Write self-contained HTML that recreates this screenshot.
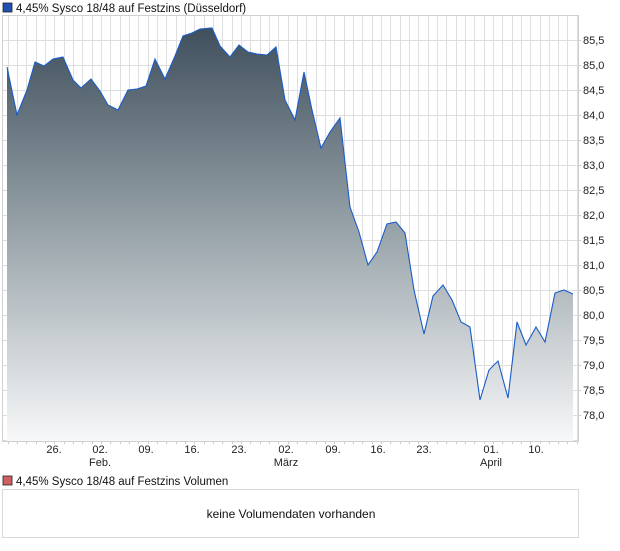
<!DOCTYPE html>
<html><head><meta charset="utf-8"><style>
body{margin:0;background:#fff;width:620px;height:546px;overflow:hidden;font-family:"Liberation Sans",sans-serif}
</style></head><body>
<svg width="620" height="546" xmlns="http://www.w3.org/2000/svg" font-family="Liberation Sans, sans-serif">
<defs>
<linearGradient id="g" gradientUnits="userSpaceOnUse" x1="0" y1="28" x2="0" y2="441">
<stop offset="0" stop-color="#3f4f5c"/>
<stop offset="0.5" stop-color="#9aa5ab"/>
<stop offset="1" stop-color="#f7f8f9"/>
</linearGradient>
</defs>
<rect x="3" y="3" width="9" height="9" fill="#1f4fb0" stroke="#222" stroke-width="0.8"/>
<text x="16" y="12" font-size="11.5" fill="#111">4,45% Sysco 18/48 auf Festzins (Düsseldorf)</text>
<path id="area" fill="url(#g)" stroke="none"/>
<polyline id="line" fill="none" stroke="#1a5cc8" stroke-width="1.1"/>
<rect x="2.5" y="15.5" width="576" height="426" fill="none" stroke="#d0d0d0"/>
<g font-size="11" fill="#222" id="yl"></g>
<g font-size="11" fill="#222" text-anchor="middle">
<text x="54" y="453">26.</text><text x="100" y="453">02.</text><text x="100" y="466">Feb.</text>
<text x="146" y="453">09.</text><text x="192" y="453">16.</text><text x="239" y="453">23.</text>
<text x="286" y="453">02.</text><text x="286" y="466">März</text><text x="333" y="453">09.</text>
<text x="378" y="453">16.</text><text x="424" y="453">23.</text><text x="491" y="453">01.</text>
<text x="491" y="466">April</text><text x="536" y="453">10.</text>
</g>
<rect x="3" y="476" width="9" height="9" fill="#d06060" stroke="#222" stroke-width="0.8"/>
<text x="16" y="485" font-size="11.5" fill="#111">4,45% Sysco 18/48 auf Festzins Volumen</text>
<rect x="2.5" y="489.5" width="576" height="48" fill="#fff" stroke="#d8d8d8"/>
<text x="291" y="518" font-size="12" fill="#111" text-anchor="middle">keine Volumendaten vorhanden</text>
</svg>
<script>
var ns="http://www.w3.org/2000/svg";
var pts=[[7,67],[17,115],[27,90],[35,62],[44,66],[53,59],[63,57],[73,80],[81,88],[91,79],[100,91],[108,105],[118,110],[128,90],[137,89],[146,86],[155,59],[165,79],[175,56],[183,36],[192,33],[200,29],[212,28],[220,46],[230,57],[239,45],[248,52],[257,54],[267,55],[276,47],[285,100],[295,120],[304,72],[312,110],[321,148],[330,132],[340,118],[350,207],[359,232],[368,265],[377,252],[387,224],[396,222],[405,233],[414,290],[424,334],[433,296],[443,285],[452,300],[461,322],[470,327],[480,400],[489,370],[498,361],[508,398],[517,322],[526,345],[536,327],[545,342],[555,293],[564,290],[573,294]];
var s=pts.map(p=>p.join(",")).join(" ");
document.getElementById("line").setAttribute("points",s);
document.getElementById("area").setAttribute("d","M7,441 L"+pts.map(p=>p.join(",")).join(" L")+" L573,441 Z");
var svg=document.querySelector("svg"),area=document.getElementById("area");
for(var x=7.7;x<578;x+=9.33){var l=document.createElementNS(ns,"line");l.setAttribute("x1",Math.round(x)+.5);l.setAttribute("x2",Math.round(x)+.5);l.setAttribute("y1",15);l.setAttribute("y2",441);l.setAttribute("stroke","#dedede");svg.insertBefore(l,area);
var t=document.createElementNS(ns,"line");t.setAttribute("x1",Math.round(x)+.5);t.setAttribute("x2",Math.round(x)+.5);t.setAttribute("y1",441);t.setAttribute("y2",444);t.setAttribute("stroke","#ccc");svg.appendChild(t);}
var yl=document.getElementById("yl");
for(var i=0;i<=17;i++){var y=15+i*25;var l=document.createElementNS(ns,"line");l.setAttribute("x1",3);l.setAttribute("x2",578);l.setAttribute("y1",y+.5);l.setAttribute("y2",y+.5);l.setAttribute("stroke","#dedede");svg.insertBefore(l,area);}
for(var k=0;k<=15;k++){var y=40+k*25;var val=(85.5-k*0.5).toFixed(1).replace(".",",");
var t=document.createElementNS(ns,"text");t.setAttribute("x",583);t.setAttribute("y",y+4);t.textContent=val;yl.appendChild(t);
var tk=document.createElementNS(ns,"line");tk.setAttribute("x1",578);tk.setAttribute("x2",581);tk.setAttribute("y1",y+.5);tk.setAttribute("y2",y+.5);tk.setAttribute("stroke","#ccc");svg.appendChild(tk);}
</script>
</body></html>
